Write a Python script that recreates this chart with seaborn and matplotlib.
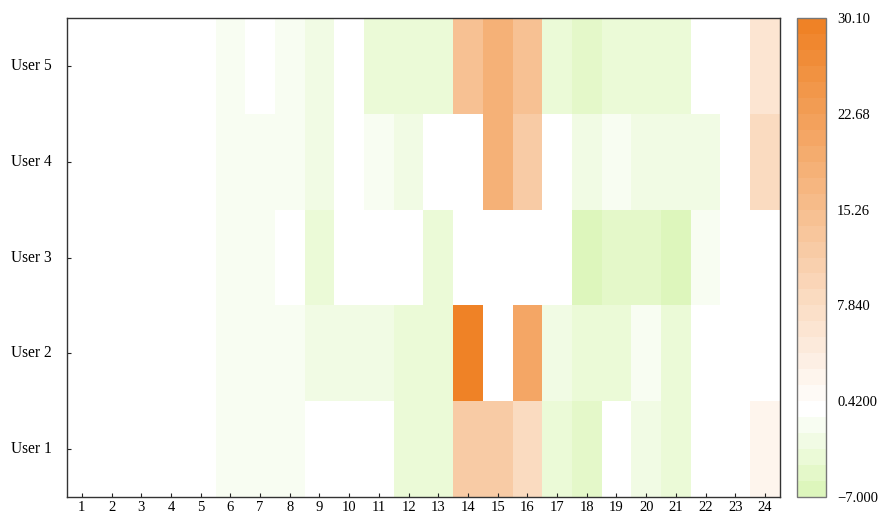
import numpy as np
import pandas as pd
import matplotlib
matplotlib.use("Agg")
import matplotlib.pyplot as plt
import seaborn as sns
from matplotlib.colors import LinearSegmentedColormap

# DATA

hours = [str(h) for h in range(1, 25)]
users = ["User 1", "User 2", "User 3", "User 4", "User 5"]

user1 = [0, 0, 0, 0, 0, -1.5, -1.5, -1.5, 0, 0, 0, -3.9, -3.9, 12.0, 12.0, 8.5,
         -3.9, -5.0, 0, -2.7, -3.9, 0, 0, 2.6]
user2 = [0, 0, 0, 0, 0, -1.5, -1.5, -1.5, -2.7, -2.7, -2.7, -3.9, -3.9, 30.1, 0, 20.3,
         -2.7, -3.9, -3.9, -1.5, -3.9, 0, 0, 0]
user3 = [0, 0, 0, 0, 0, -1.5, -1.5, 0, -3.9, 0, 0, 0, -4.5, 0, 0, 0,
         0, -7.0, -5.0, -5.0, -6.6, -1.3, 0, 0]
user4 = [0, 0, 0, 0, 0, -1.5, -1.5, -1.5, -2.7, 0, -1.3, -2.7, 0, 0, 17.8, 12.0,
         0, -2.7, -1.3, -2.7, -2.7, -2.7, 0, 8.5]
user5 = [0, 0, 0, 0, 0, -1.5, 0, -1.5, -2.7, 0, -3.9, -3.9, -3.9, 14.3, 17.8, 15.2,
         -3.9, -5.0, -3.9, -3.9, -3.9, 0, 0, 6.0]

vmin, vmax = -7.0, 30.1
cbar_ticks = [-7.0, 0.42, 7.84, 15.26, 22.68, 30.10]
cbar_labels = ["\u22127.000", "0.4200", "7.840", "15.26", "22.68", "30.10"]

# heatmap draws first row on top, so put User 5 first
df = pd.DataFrame([user5, user4, user3, user2, user1],
                  index=users[::-1], columns=hours)

# COLORMAP (30 discrete steps, green -> white -> orange)

n_steps = 30
white_pos = 5 / (n_steps - 1)
cmap = LinearSegmentedColormap.from_list(
    "green_orange",
    [(0.0, "#ddf6bc"), (white_pos, "#ffffff"), (1.0, "#ef8226")],
).resampled(n_steps)

# PLOT

plt.rcParams["font.family"] = ["Liberation Serif", "DejaVu Serif"]

fig = plt.figure(figsize=(8.91, 5.15), dpi=100)
ax = fig.add_axes([0.0752, 0.035, 0.800, 0.930])
cax = fig.add_axes([0.8945, 0.035, 0.0325, 0.930])

sns.heatmap(df, cmap=cmap, vmin=vmin, vmax=vmax, ax=ax, cbar_ax=cax,
            linewidths=0, cbar_kws={"ticks": cbar_ticks})

for side in ["left", "right", "top", "bottom"]:
    ax.spines[side].set_visible(True)
    ax.spines[side].set_color("#333333")
    ax.spines[side].set_linewidth(1.0)

ax.tick_params(axis="both", direction="in", length=3, width=0.8,
               colors="#222222")
ax.tick_params(axis="x", labelrotation=0, labelsize=10.5, pad=3)
ax.tick_params(axis="y", labelrotation=0, labelsize=11.2, pad=11)
for lbl in ax.get_yticklabels() + ax.get_xticklabels():
    lbl.set_color("black")
ax.set_xlabel("")
ax.set_ylabel("")

cbar = ax.collections[0].colorbar
cbar.set_ticks(cbar_ticks)
cbar.set_ticklabels(cbar_labels)
cbar.ax.tick_params(length=0, labelsize=10.5, pad=8)
cbar.outline.set_visible(True)
cbar.outline.set_edgecolor("#777777")
cbar.outline.set_linewidth(1.0)

fig.savefig("out.png", dpi=100)
plt.close(fig)
